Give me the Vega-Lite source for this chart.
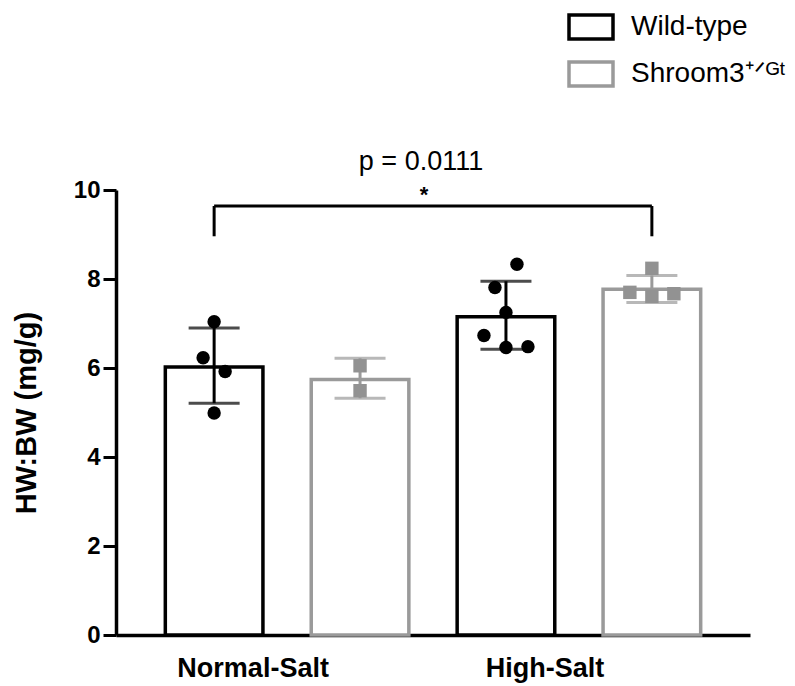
{
  "$schema": "https://vega.github.io/schema/vega-lite/v6.json",
  "width": 634,
  "height": 445,
  "autosize": {"type": "none"},
  "padding": {"left": 116, "top": 190, "right": 45, "bottom": 51},
  "background": "white",
  "config": {"view": {"stroke": null}, "font": "Liberation Sans"},
  "datasets": {
    "summary": [
      {"bar": "Normal-Salt|Wild-type", "genotype": "Wild-type", "mean": 6.02, "lo": 5.21, "hi": 6.9},
      {"bar": "Normal-Salt|Shroom3+/Gt", "genotype": "Shroom3+/Gt", "mean": 5.74, "lo": 5.32, "hi": 6.22},
      {"bar": "High-Salt|Wild-type", "genotype": "Wild-type", "mean": 7.15, "lo": 6.42, "hi": 7.95},
      {"bar": "High-Salt|Shroom3+/Gt", "genotype": "Shroom3+/Gt", "mean": 7.77, "lo": 7.47, "hi": 8.08}
    ],
    "points": [
      {"bar": "Normal-Salt|Wild-type", "strain": "WT", "value": 7.04, "col": 0},
      {"bar": "Normal-Salt|Wild-type", "strain": "WT", "value": 6.23, "col": -1},
      {"bar": "Normal-Salt|Wild-type", "strain": "WT", "value": 5.92, "col": 1},
      {"bar": "Normal-Salt|Wild-type", "strain": "WT", "value": 4.99, "col": 0},
      {"bar": "Normal-Salt|Shroom3+/Gt", "strain": "Het", "value": 6.05, "col": 0},
      {"bar": "Normal-Salt|Shroom3+/Gt", "strain": "Het", "value": 5.49, "col": 0},
      {"bar": "High-Salt|Wild-type", "strain": "WT", "value": 8.33, "col": 1},
      {"bar": "High-Salt|Wild-type", "strain": "WT", "value": 7.81, "col": -1},
      {"bar": "High-Salt|Wild-type", "strain": "WT", "value": 7.25, "col": 0},
      {"bar": "High-Salt|Wild-type", "strain": "WT", "value": 6.73, "col": -2},
      {"bar": "High-Salt|Wild-type", "strain": "WT", "value": 6.46, "col": 0},
      {"bar": "High-Salt|Wild-type", "strain": "WT", "value": 6.48, "col": 2},
      {"bar": "High-Salt|Shroom3+/Gt", "strain": "Het", "value": 8.24, "col": 0},
      {"bar": "High-Salt|Shroom3+/Gt", "strain": "Het", "value": 7.7, "col": -2},
      {"bar": "High-Salt|Shroom3+/Gt", "strain": "Het", "value": 7.61, "col": 0},
      {"bar": "High-Salt|Shroom3+/Gt", "strain": "Het", "value": 7.67, "col": 2}
    ],
    "bracket": [
      {"from": "Normal-Salt|Wild-type", "to": "High-Salt|Shroom3+/Gt", "y": 9.64}
    ],
    "bracketEnds": [
      {"bar": "Normal-Salt|Wild-type", "lo": 8.96, "hi": 9.64},
      {"bar": "High-Salt|Shroom3+/Gt", "lo": 8.96, "hi": 9.64}
    ],
    "annot": [
      {"bar": "Normal-Salt|Shroom3+/Gt", "kind": "p", "label": "p = 0.0111", "y": 10.63},
      {"bar": "Normal-Salt|Shroom3+/Gt", "kind": "star", "label": "*", "y": 10.0}
    ]
  },
  "layer": [
    {
      "data": {"name": "summary"},
      "mark": {"type": "bar", "fill": "white", "strokeWidth": 3.5},
      "encoding": {
        "x": {
          "field": "bar",
          "type": "nominal",
          "scale": {
            "type": "band",
            "domain": ["Normal-Salt|Wild-type", "Normal-Salt|Shroom3+/Gt", "High-Salt|Wild-type", "High-Salt|Shroom3+/Gt"],
            "paddingInner": 0.331,
            "paddingOuter": 0.338
          },
          "axis": {
            "title": null,
            "domainWidth": 3.5,
            "domainColor": "black",
            "ticks": false,
            "tickSize": 0,
            "labelAngle": 0,
            "labelFontSize": 27,
            "labelFontWeight": "bold",
            "labelColor": "black",
            "labelPadding": 20,
            "labelOffset": 39,
            "labelExpr": "indexof(datum.value, 'Wild-type') >= 0 ? split(datum.value, '|')[0] : ''"
          }
        },
        "y": {
          "field": "mean",
          "type": "quantitative",
          "scale": {"domain": [0, 10], "nice": false},
          "axis": {
            "title": "HW:BW (mg/g)",
            "values": [0, 2, 4, 6, 8, 10],
            "grid": false,
            "domainWidth": 3.5,
            "domainColor": "black",
            "tickWidth": 3,
            "tickColor": "black",
            "tickSize": 13,
            "labelFontSize": 24,
            "labelFontWeight": "bold",
            "labelColor": "black",
            "labelPadding": 3,
            "titleFontSize": 29,
            "titleFontWeight": "bold",
            "titleColor": "black",
            "titlePadding": 32
          }
        },
        "stroke": {
          "field": "genotype",
          "type": "nominal",
          "scale": {"domain": ["Wild-type", "Shroom3+/Gt"], "range": ["#000000", "#9a9a9a"]},
          "legend": {
            "title": null,
            "orient": "none",
            "legendX": 451,
            "legendY": -187,
            "symbolType": "M-1,-0.545H1V0.545H-1Z",
            "symbolSize": 1936,
            "symbolStrokeWidth": 3.5,
            "symbolFillColor": "white",
            "labelFont": "Liberation Sans",
            "labelFontSize": 28,
            "labelColor": "black",
            "labelOffset": 16,
            "rowPadding": 4,
            "labelLimit": 300,
            "labelExpr": "datum.value == 'Shroom3+/Gt' ? 'Shroom3⁺ᐟᴳᵗ' : datum.value"
          }
        }
      }
    },
    {
      "data": {"name": "summary"},
      "mark": {"type": "rule", "strokeWidth": 3},
      "encoding": {
        "x": {"field": "bar", "type": "nominal"},
        "y": {"field": "lo", "type": "quantitative"},
        "y2": {"field": "hi"},
        "stroke": {"field": "genotype", "type": "nominal"}
      }
    },
    {
      "data": {"name": "summary"},
      "transform": [{"filter": "datum.genotype == 'Wild-type'"}, {"fold": ["lo", "hi"], "as": ["end", "v"]}],
      "mark": {"type": "tick", "size": 51, "thickness": 3, "color": "#000000"},
      "encoding": {
        "x": {"field": "bar", "type": "nominal"},
        "y": {"field": "v", "type": "quantitative"}
      }
    },
    {
      "data": {"name": "summary"},
      "transform": [{"filter": "datum.genotype == 'Shroom3+/Gt'"}, {"fold": ["lo", "hi"], "as": ["end", "v"]}],
      "mark": {"type": "tick", "size": 51, "thickness": 3, "color": "#9a9a9a"},
      "encoding": {
        "x": {"field": "bar", "type": "nominal"},
        "y": {"field": "v", "type": "quantitative"}
      }
    },
    {
      "data": {"name": "points"},
      "transform": [{"filter": "datum.col == -2"}],
      "mark": {"type": "point", "filled": true, "size": 180, "opacity": 1, "strokeWidth": 0},
      "encoding": {
        "x": {"field": "bar", "type": "nominal"},
        "xOffset": {"value": 26.8},
        "y": {"field": "value", "type": "quantitative"},
        "fill": {"field": "strain", "type": "nominal", "scale": {"domain": ["WT", "Het"], "range": ["#000000", "#929292"]}, "legend": null},
        "shape": {"field": "strain", "type": "nominal", "scale": {"domain": ["WT", "Het"], "range": ["circle", "square"]}, "legend": null}
      }
    },
    {
      "data": {"name": "points"},
      "transform": [{"filter": "datum.col == -1"}],
      "mark": {"type": "point", "filled": true, "size": 180, "opacity": 1, "strokeWidth": 0},
      "encoding": {
        "x": {"field": "bar", "type": "nominal"},
        "xOffset": {"value": 37.8},
        "y": {"field": "value", "type": "quantitative"},
        "fill": {"field": "strain", "type": "nominal", "legend": null},
        "shape": {"field": "strain", "type": "nominal", "legend": null}
      }
    },
    {
      "data": {"name": "points"},
      "transform": [{"filter": "datum.col == 0"}],
      "mark": {"type": "point", "filled": true, "size": 180, "opacity": 1, "strokeWidth": 0},
      "encoding": {
        "x": {"field": "bar", "type": "nominal"},
        "y": {"field": "value", "type": "quantitative"},
        "fill": {"field": "strain", "type": "nominal", "legend": null},
        "shape": {"field": "strain", "type": "nominal", "legend": null}
      }
    },
    {
      "data": {"name": "points"},
      "transform": [{"filter": "datum.col == 1"}],
      "mark": {"type": "point", "filled": true, "size": 180, "opacity": 1, "strokeWidth": 0},
      "encoding": {
        "x": {"field": "bar", "type": "nominal"},
        "xOffset": {"value": 59.8},
        "y": {"field": "value", "type": "quantitative"},
        "fill": {"field": "strain", "type": "nominal", "legend": null},
        "shape": {"field": "strain", "type": "nominal", "legend": null}
      }
    },
    {
      "data": {"name": "points"},
      "transform": [{"filter": "datum.col == 2"}],
      "mark": {"type": "point", "filled": true, "size": 180, "opacity": 1, "strokeWidth": 0},
      "encoding": {
        "x": {"field": "bar", "type": "nominal"},
        "xOffset": {"value": 70.8},
        "y": {"field": "value", "type": "quantitative"},
        "fill": {"field": "strain", "type": "nominal", "legend": null},
        "shape": {"field": "strain", "type": "nominal", "legend": null}
      }
    },
    {
      "data": {"name": "bracket"},
      "mark": {"type": "rule", "strokeWidth": 3, "color": "black"},
      "encoding": {
        "x": {"field": "from", "type": "nominal"},
        "x2": {"field": "to"},
        "y": {"field": "y", "type": "quantitative"}
      }
    },
    {
      "data": {"name": "bracketEnds"},
      "mark": {"type": "rule", "strokeWidth": 3, "color": "black"},
      "encoding": {
        "x": {"field": "bar", "type": "nominal"},
        "y": {"field": "lo", "type": "quantitative"},
        "y2": {"field": "hi"}
      }
    },
    {
      "data": {"name": "annot"},
      "transform": [{"filter": "datum.kind == 'p'"}],
      "mark": {"type": "text", "fontSize": 27, "color": "black", "dx": 61, "baseline": "middle", "align": "center"},
      "encoding": {
        "x": {"field": "bar", "type": "nominal"},
        "y": {"field": "y", "type": "quantitative"},
        "text": {"field": "label"}
      }
    },
    {
      "data": {"name": "annot"},
      "transform": [{"filter": "datum.kind == 'star'"}],
      "mark": {"type": "text", "fontSize": 22, "fontWeight": "bold", "color": "black", "dx": 64, "dy": 5, "baseline": "middle", "align": "center"},
      "encoding": {
        "x": {"field": "bar", "type": "nominal"},
        "y": {"field": "y", "type": "quantitative"},
        "text": {"field": "label"}
      }
    }
  ]
}
